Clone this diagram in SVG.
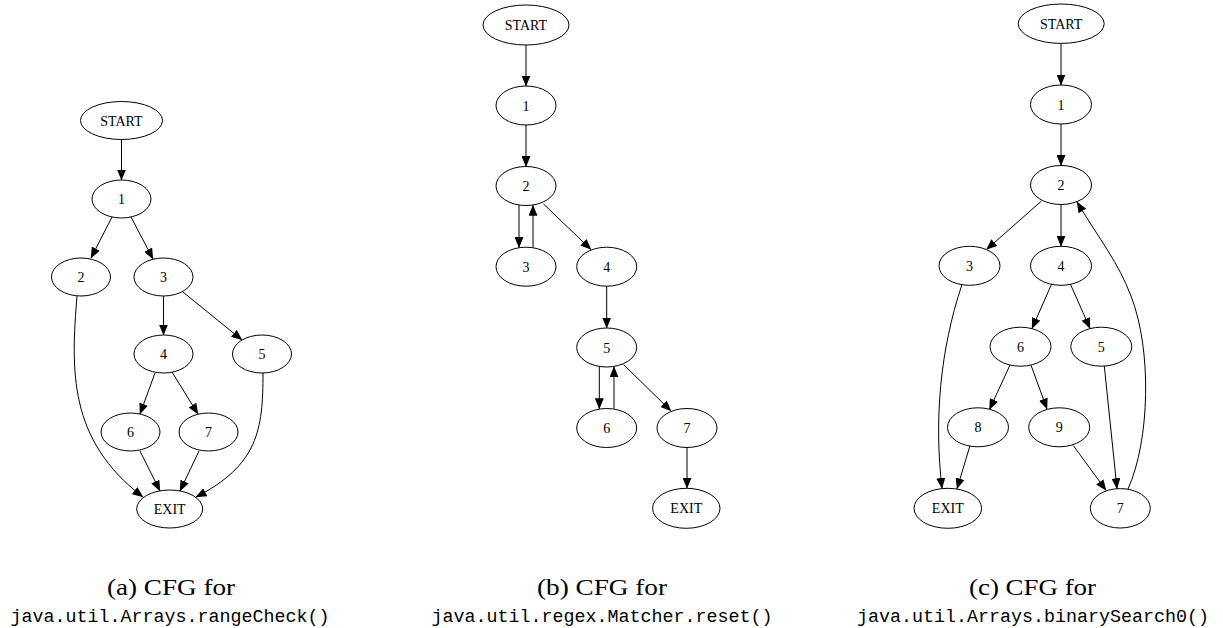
<svg xmlns="http://www.w3.org/2000/svg" width="1223" height="628" viewBox="0 0 1223 628">
  <style>
    .node ellipse { fill: #ffffff; stroke: #000000; stroke-width: 1; }
    .node text { font-family: "Liberation Serif", "Times New Roman", serif; font-size: 14px; fill: #000000; text-anchor: middle; }
    .edge { fill: none; stroke: #000000; stroke-width: 1; marker-end: url(#arrow); }
    .cap1 { font-family: "Liberation Serif", "Times New Roman", serif; font-size: 23px; fill: #000000; text-anchor: middle; }
    .cap2 { font-family: "Liberation Mono", "Courier New", monospace; font-size: 18px; fill: #000000; text-anchor: middle; }
  </style>
  <defs>
    <marker id="arrow" markerWidth="11" markerHeight="9" refX="10.5" refY="4.5" orient="auto" markerUnits="userSpaceOnUse">
      <path d="M0,0 L11,4.5 L0,9 Z" fill="#000000"/>
    </marker>
  </defs>
  <rect width="1223" height="628" fill="#ffffff"/>

  <!-- (a) rangeCheck() -->
  <g id="cfg-a">
    <g id="connectors-a">
      <path class="edge" d="M121.5,139.5 L121.5,180"/>
      <path class="edge" d="M112,217 L91,258"/>
      <path class="edge" d="M131,217 L153,259"/>
      <path class="edge" d="M163.5,296 L163.5,335"/>
      <path class="edge" d="M183,292 L242,340"/>
      <path class="edge" d="M155,373 L140,414"/>
      <path class="edge" d="M172,372 L198,414"/>
      <path class="edge" d="M140,451 L160,491"/>
      <path class="edge" d="M199,451 L180,491"/>
      <path class="edge" d="M77,296 C71,370 68,440 143,497"/>
      <path class="edge" d="M263,373 C263,430 258,465 196,497"/>
    </g>
    <g id="a-start" class="node"><ellipse cx="121.5" cy="120.5" rx="41" ry="19"/><text x="121.5" y="125.5">START</text></g>
    <g id="a-n1" class="node"><ellipse cx="121.5" cy="199" rx="29.5" ry="19"/><text x="121.5" y="204">1</text></g>
    <g id="a-n2" class="node"><ellipse cx="81" cy="277" rx="29.5" ry="19"/><text x="81" y="282">2</text></g>
    <g id="a-n3" class="node"><ellipse cx="163.5" cy="277" rx="29.5" ry="19"/><text x="163.5" y="282">3</text></g>
    <g id="a-n4" class="node"><ellipse cx="163.5" cy="354" rx="29.5" ry="19"/><text x="163.5" y="359">4</text></g>
    <g id="a-n5" class="node"><ellipse cx="262" cy="354" rx="29.5" ry="19"/><text x="262" y="359">5</text></g>
    <g id="a-n6" class="node"><ellipse cx="130.5" cy="432" rx="29.5" ry="19"/><text x="130.5" y="437">6</text></g>
    <g id="a-n7" class="node"><ellipse cx="208.5" cy="432" rx="29.5" ry="19"/><text x="208.5" y="437">7</text></g>
    <g id="a-exit" class="node"><ellipse cx="169.7" cy="509" rx="33" ry="19"/><text x="169.7" y="514">EXIT</text></g>
  </g>

  <!-- (b) reset() -->
  <g id="cfg-b">
    <g id="connectors-b">
      <path class="edge" d="M526,45 L526,86"/>
      <path class="edge" d="M526,125 L526,166.5"/>
      <path class="edge" d="M519,205 L519,247.5"/>
      <path class="edge" d="M533,247.7 L533,205.2"/>
      <path class="edge" d="M543.5,204 L591,249.5"/>
      <path class="edge" d="M606.7,286.2 L606.7,328"/>
      <path class="edge" d="M599.3,366.5 L599.3,408.8"/>
      <path class="edge" d="M614,408.8 L614,366.8"/>
      <path class="edge" d="M623.5,364.5 L671,411"/>
      <path class="edge" d="M687,447.5 L687,488.3"/>
    </g>
    <g id="b-start" class="node"><ellipse cx="526" cy="25" rx="43" ry="20"/><text x="526" y="30">START</text></g>
    <g id="b-n1" class="node"><ellipse cx="526" cy="105.5" rx="30" ry="19.5"/><text x="526" y="110.5">1</text></g>
    <g id="b-n2" class="node"><ellipse cx="526" cy="186" rx="30" ry="19.5"/><text x="526" y="191">2</text></g>
    <g id="b-n3" class="node"><ellipse cx="526" cy="266.7" rx="30" ry="19.5"/><text x="526" y="271.7">3</text></g>
    <g id="b-n4" class="node"><ellipse cx="606.7" cy="266.7" rx="30" ry="19.5"/><text x="606.7" y="271.7">4</text></g>
    <g id="b-n5" class="node"><ellipse cx="606.7" cy="347.5" rx="30" ry="19.5"/><text x="606.7" y="352.5">5</text></g>
    <g id="b-n6" class="node"><ellipse cx="606.7" cy="428" rx="30" ry="19.5"/><text x="606.7" y="433">6</text></g>
    <g id="b-n7" class="node"><ellipse cx="687" cy="428" rx="30" ry="19.5"/><text x="687" y="433">7</text></g>
    <g id="b-exit" class="node"><ellipse cx="686.3" cy="508.3" rx="33.7" ry="20"/><text x="686.3" y="513.3">EXIT</text></g>
  </g>

  <!-- (c) binarySearch0() -->
  <g id="cfg-c">
    <g id="connectors-c">
      <path class="edge" d="M1061,43.4 L1061,85"/>
      <path class="edge" d="M1061,124 L1061,165.5"/>
      <path class="edge" d="M1041.5,201 L986.5,249.5"/>
      <path class="edge" d="M1061,204.5 L1061,246.3"/>
      <path class="edge" d="M1051.5,284.3 L1032,328.5"/>
      <path class="edge" d="M1070.5,284.3 L1090,328.5"/>
      <path class="edge" d="M1010,365 L989.5,409.5"/>
      <path class="edge" d="M1031,365.2 L1047,409"/>
      <path class="edge" d="M1104.3,366 L1117,488.7"/>
      <path class="edge" d="M1073.3,445.5 L1106,490.3"/>
      <path class="edge" d="M970,445.6 L957,488.8"/>
      <path class="edge" d="M962,284.5 C940,350 934,420 942,488.5"/>
      <path class="edge" d="M1128,489 C1150,440 1152,350 1131,296 C1118,262 1100,240 1077,202"/>
    </g>
    <g id="c-start" class="node"><ellipse cx="1061.2" cy="23.7" rx="43" ry="19.7"/><text x="1061.2" y="28.7">START</text></g>
    <g id="c-n1" class="node"><ellipse cx="1061" cy="104.5" rx="30.5" ry="19.5"/><text x="1061" y="109.5">1</text></g>
    <g id="c-n2" class="node"><ellipse cx="1061" cy="185" rx="30.5" ry="19.5"/><text x="1061" y="190">2</text></g>
    <g id="c-n3" class="node"><ellipse cx="969.5" cy="265.8" rx="30.5" ry="19.5"/><text x="969.5" y="270.8">3</text></g>
    <g id="c-n4" class="node"><ellipse cx="1061" cy="265.8" rx="30.5" ry="19.5"/><text x="1061" y="270.8">4</text></g>
    <g id="c-n6" class="node"><ellipse cx="1020.5" cy="346.7" rx="30.5" ry="19.5"/><text x="1020.5" y="351.7">6</text></g>
    <g id="c-n5" class="node"><ellipse cx="1101.3" cy="346.7" rx="30.5" ry="19.5"/><text x="1101.3" y="351.7">5</text></g>
    <g id="c-n8" class="node"><ellipse cx="978" cy="427.3" rx="30.5" ry="19.5"/><text x="978" y="432.3">8</text></g>
    <g id="c-n9" class="node"><ellipse cx="1059.2" cy="427.3" rx="30.5" ry="19.5"/><text x="1059.2" y="432.3">9</text></g>
    <g id="c-exit" class="node"><ellipse cx="947.8" cy="508.3" rx="33.8" ry="20"/><text x="947.8" y="513.3">EXIT</text></g>
    <g id="c-n7" class="node"><ellipse cx="1120.3" cy="508.3" rx="30" ry="19.7"/><text x="1120.3" y="513.3">7</text></g>
  </g>

  <!-- subfigure captions -->
  <g id="captions">
    <text class="cap1" x="171" y="595" textLength="128" lengthAdjust="spacingAndGlyphs">(a) CFG for</text>
    <text class="cap2" x="170" y="622" textLength="319" lengthAdjust="spacingAndGlyphs">java.util.Arrays.rangeCheck()</text>
    <text class="cap1" x="602" y="595" textLength="130" lengthAdjust="spacingAndGlyphs">(b) CFG for</text>
    <text class="cap2" x="602" y="622" textLength="341" lengthAdjust="spacingAndGlyphs">java.util.regex.Matcher.reset()</text>
    <text class="cap1" x="1032.5" y="595" textLength="127" lengthAdjust="spacingAndGlyphs">(c) CFG for</text>
    <text class="cap2" x="1033" y="622" textLength="352" lengthAdjust="spacingAndGlyphs">java.util.Arrays.binarySearch0()</text>
  </g>
</svg>
